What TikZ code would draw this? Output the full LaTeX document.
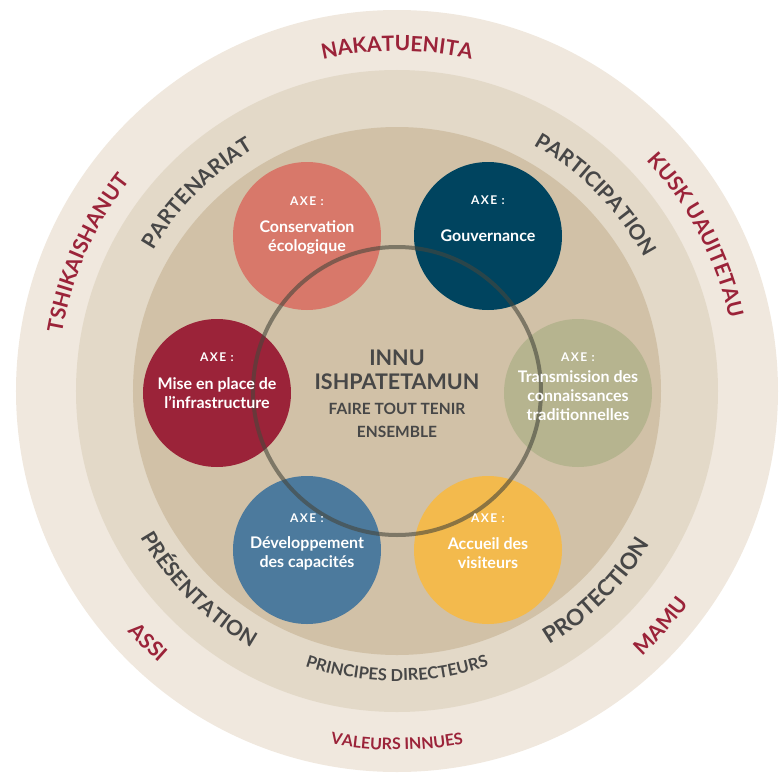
\documentclass[tikz,border=0pt]{standalone}
\usepackage{fontspec}
\setmainfont{Lato}
\usetikzlibrary{decorations.text}
\definecolor{ringout}{HTML}{F0E8DE}
\definecolor{ringmid}{HTML}{E3D9C8}
\definecolor{ringin}{HTML}{D1C1A7}
\definecolor{conscol}{HTML}{D8786A}
\definecolor{gouvcol}{HTML}{00445F}
\definecolor{transcol}{HTML}{B6B48F}
\definecolor{infracol}{HTML}{9B2339}
\definecolor{devcol}{HTML}{4C7A9D}
\definecolor{accucol}{HTML}{F3BA4D}
\definecolor{valred}{HTML}{9B2339}
\definecolor{txtgrey}{HTML}{474747}
\tikzset{
  axe/.style={circle, inner sep=0pt, minimum size=148pt},
  axetag/.style={text=white, font=\fontsize{12}{14}\selectfont\bfseries\addfontfeatures{LetterSpace=12}},
  axename/.style={text=white, align=center, font=\fontsize{16}{19}\selectfont\bfseries},
  coeur/.style={text=txtgrey, align=center, font=\fontsize{21.5}{24.5}\selectfont\bfseries},
  coeursub/.style={text=txtgrey, align=center, font=\fontsize{15.5}{23}\selectfont\bfseries},
  lien/.style={line width=4pt, draw={rgb,255:red,70;green,70;blue,60}, draw opacity=0.6},
  valeur/.style={decorate, decoration={text along path, text align=center,
    text={|\fontsize{21}{21}\selectfont\bfseries\color{valred}|#1}}},
  valeurpetit/.style={decorate, decoration={text along path, text align=center,
    text={|\fontsize{16}{16}\selectfont\bfseries\color{valred}|#1}}},
  principe/.style={decorate, decoration={text along path, text align=center,
    text={|\fontsize{21}{21}\selectfont\bfseries\color{txtgrey}|#1}}},
  principegrand/.style={decorate, decoration={text along path, text align=center,
    text={|\fontsize{22.5}{22.5}\selectfont\bfseries\color{txtgrey}|#1}}},
  principepetit/.style={decorate, decoration={text along path, text align=center,
    text={|\fontsize{16.5}{16.5}\selectfont\bfseries\color{txtgrey}|#1}}}
}
\begin{document}
\begin{tikzpicture}[x=1pt, y=1pt]
\useasboundingbox (-397,-381) rectangle (382,391);
% rings
\fill[ringout] (0,0) circle[radius=381];
\fill[ringmid] (0,0) circle[radius=321];
\fill[ringin] (0,0) circle[radius=264];

% valeurs innues (outer ring)
\path[valeur=NAKATUENITA] (135:340) arc[start angle=135, end angle=45, radius=340];
\path[valeur=TSHIKAISHANUT] (201:340) arc[start angle=201, end angle=111, radius=340];
\path[valeur=KUSK UAUITETAU] (72.5:340) arc[start angle=72.5, end angle=-17.5, radius=340];
\path[valeur=ASSI] (180.3:361) arc[start angle=180.3, end angle=270.3, radius=361];
\path[valeur=MAMU] (-86.7:361) arc[start angle=-86.7, end angle=3.3, radius=361];
\path[valeurpetit=VALEURS INNUES] (225:359) arc[start angle=225, end angle=315, radius=359];

% principes directeurs (middle ring)
\path[principe=PARTENARIAT] (180.3:281) arc[start angle=180.3, end angle=90.3, radius=281];
\path[principe=PARTICIPATION] (89.7:281) arc[start angle=89.7, end angle=-0.3, radius=281];
\path[principe=PRÉSENTATION] (180.1:295) arc[start angle=180.1, end angle=270.1, radius=295];
\path[principegrand=PROTECTION] (-90.1:296) arc[start angle=-90.1, end angle=-0.1, radius=296];
\path[principepetit=PRINCIPES DIRECTEURS] (225:290) arc[start angle=225, end angle=315, radius=290];

% axes
\node[axe, fill=conscol] (conservation) at (-90,155) {};
\node[axe, fill=gouvcol] (gouvernance) at (91,155) {};
\node[axe, fill=transcol] (transmission) at (181,-2) {};
\node[axe, fill=infracol] (infrastructure) at (-180,-2) {};
\node[axe, fill=devcol] (developpement) at (-90,-159) {};
\node[axe, fill=accucol] (accueil) at (91,-159) {};

% central ring
\draw[lien] (0,0) circle[radius=144];

\node[axetag] (conservation-tag) at ([yshift=35]conservation.center) {AXE :};
\node[axename] (conservation-name) at ([yshift=-1]conservation.center) {Conservation\\écologique};
\node[axetag] (gouvernance-tag) at ([yshift=36]gouvernance.center) {AXE :};
\node[axename] (gouvernance-name) at ([yshift=0]gouvernance.center) {Gouvernance};
\node[axetag] (transmission-tag) at ([yshift=36]transmission.center) {AXE :};
\node[axename] (transmission-name) at ([yshift=-3]transmission.center) {Transmission des\\connaissances\\traditionnelles};
\node[axetag] (infrastructure-tag) at ([yshift=36]infrastructure.center) {AXE :};
\node[axename] (infrastructure-name) at ([yshift=0]infrastructure.center) {Mise en place de\\l’infrastructure};
\node[axetag] (developpement-tag) at ([yshift=32]developpement.center) {AXE :};
\node[axename] (developpement-name) at ([yshift=-3]developpement.center) {Développement\\des capacités};
\node[axetag] (accueil-tag) at ([yshift=32]accueil.center) {AXE :};
\node[axename] (accueil-name) at ([yshift=-3]accueil.center) {Accueil des\\visiteurs};

% centre
\node[coeur] (innu) at (0,21) {INNU\\ISHPATETAMUN};
\node[coeursub] (ensemble) at (0,-29.5) {FAIRE TOUT TENIR\\ENSEMBLE};
\end{tikzpicture}
\end{document}
